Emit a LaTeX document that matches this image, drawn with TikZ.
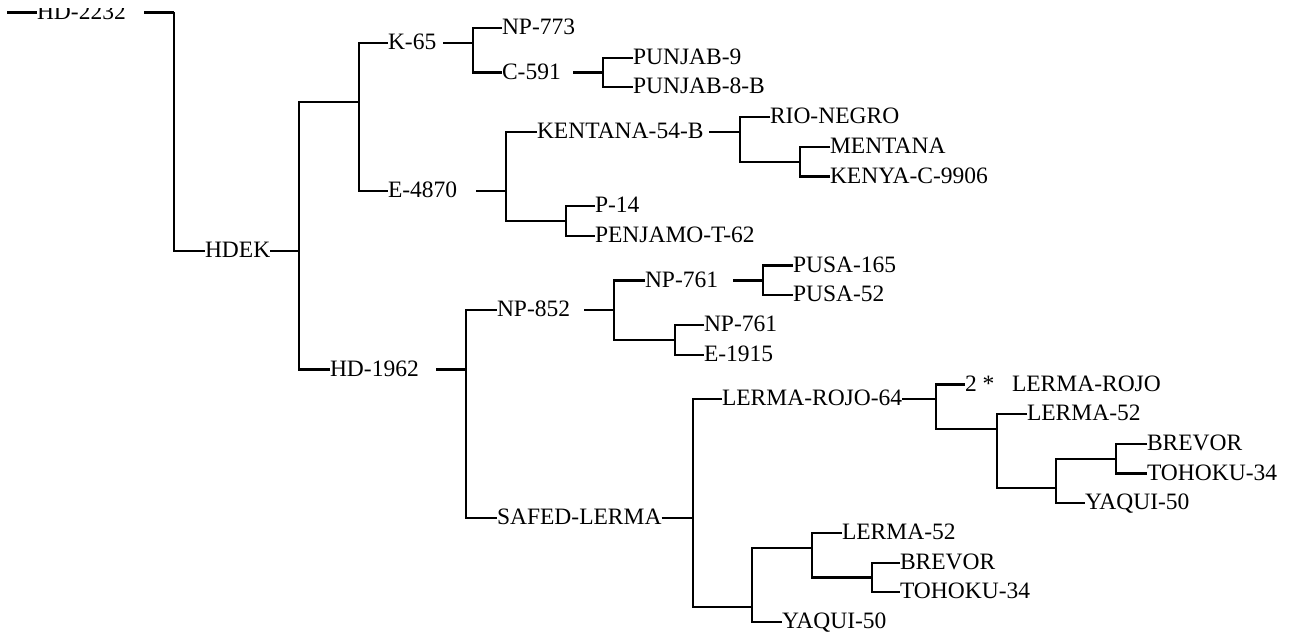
\documentclass[tikz,border=0pt]{standalone}
\usepackage{fontspec}
\setmainfont{Liberation Serif}
\begin{document}
\begin{tikzpicture}[x=1pt,y=-1pt, line width=2.2pt, line join=miter,
  lab/.style={anchor=west, inner sep=0pt, outer sep=0pt, text height=13.2pt, text depth=0pt,
    font=\fontsize{23.5}{28}\selectfont, text=black},
  conn/.style={draw=black}]
\fill[white] (0,0) rectangle (1298,636);
\useasboundingbox (0,0) rectangle (1298,636);

% ---- labels ----
\begin{scope}
  \clip (0,9) rectangle (140,40);
  \node[lab] (hdtwo) at (37,12.5) {HD-2232};
\end{scope}
\node[lab] (hdek) at (205,250.75) {HDEK};
\node[lab] (kfive) at (388,42.85) {K-65};
\node[lab] (npseven) at (502,28) {NP-773};
\node[lab] (cfive) at (502,72.55) {C-591};
\node[lab] (punnine) at (633,57.7) {PUNJAB-9};
\node[lab] (puneight) at (633,87.4) {PUNJAB-8-B};
\node[lab] (efour) at (388,191.35) {E-4870};
\node[lab] (kent) at (537,131.95) {KENTANA-54-B};
\node[lab] (rio) at (770,117.1) {RIO-NEGRO};
\node[lab] (ment) at (830,146.8) {MENTANA};
\node[lab] (kenya) at (830,176.5) {KENYA-C-9906};
\node[lab] (pfourteen) at (595,206.2) {P-14};
\node[lab] (penj) at (595,235.9) {PENJAMO-T-62};
\node[lab] (hdnineteen) at (330,369.55) {HD-1962};
\node[lab] (npeight) at (497,310.15) {NP-852};
\node[lab] (npsevA) at (645,280.45) {NP-761};
\node[lab] (pusaA) at (793,265.6) {PUSA-165};
\node[lab] (pusaB) at (793,295.3) {PUSA-52};
\node[lab] (npsevB) at (704,325) {NP-761};
\node[lab] (eone) at (704,354.7) {E-1915};
\node[lab] (safed) at (497,518.05) {SAFED-LERMA};
\node[lab] (lrsf) at (722,399.25) {LERMA-ROJO-64};
\node[lab] (lrtwo) at (965,384.4) {2 *~~~LERMA-ROJO};
\node[lab] (lermaA) at (1027,414.1) {LERMA-52};
\node[lab] (brevA) at (1147,443.8) {BREVOR};
\node[lab] (tohA) at (1147,473.5) {TOHOKU-34};
\node[lab] (yaqA) at (1085,503.2) {YAQUI-50};
\node[lab] (lermaB) at (842,532.9) {LERMA-52};
\node[lab] (brevB) at (900,562.6) {BREVOR};
\node[lab] (tohB) at (900,592.3) {TOHOKU-34};
\node[lab] (yaqB) at (782,622) {YAQUI-50};

% ---- junction coordinates ----
\coordinate (root) at (7,12.5);
\coordinate (v1) at (174,12.5);
\coordinate (v2) at (299,250.75);
\coordinate (v3) at (359,102.25);
\coordinate (v4) at (473,42.85);
\coordinate (v5) at (603,72.55);
\coordinate (v6) at (506,191.35);
\coordinate (v7) at (566,221.05);
\coordinate (v8) at (740,131.95);
\coordinate (v9) at (800,161.65);
\coordinate (v10) at (466,369.55);
\coordinate (v11) at (614,310.15);
\coordinate (v12) at (675,339.85);
\coordinate (v13) at (763,280.45);
\coordinate (v14) at (693,518.05);
\coordinate (v15) at (752,607.15);
\coordinate (v16) at (812,547.75);
\coordinate (v17) at (872,577.45);
\coordinate (v18) at (936,399.25);
\coordinate (v19) at (997,428.95);
\coordinate (v20) at (1056,488.35);
\coordinate (v21) at (1116,458.65);

% ---- connectors ----
\draw[conn] (root) -- (hdtwo.west);
\draw[conn] (v1) -- ++(-30,0);
\draw[conn] (v1) |- (hdek.west);
\draw[conn] (hdek.east) -- (v2);
\draw[conn] (v3) -| (v2) |- (hdnineteen.west);
\draw[conn] (kfive.west) -| (v3) |- (efour.west);
\draw[conn] (v4) -- ++(-30,0);
\draw[conn] (npseven.west) -| (v4) |- (cfive.west);
\draw[conn] (v5) -- ++(-30,0);
\draw[conn] (punnine.west) -| (v5) |- (puneight.west);
\draw[conn] (v6) -- ++(-30,0);
\draw[conn] (kent.west) -| (v6) |- (v7);
\draw[conn] (pfourteen.west) -| (v7) |- (penj.west);
\draw[conn] (v8) -- ++(-31,0);
\draw[conn] (rio.west) -| (v8) |- (v9);
\draw[conn] (ment.west) -| (v9) |- (kenya.west);
\draw[conn] (v10) -- ++(-30,0);
\draw[conn] (npeight.west) -| (v10) |- (safed.west);
\draw[conn] (v11) -- ++(-30,0);
\draw[conn] (npsevA.west) -| (v11) |- (v12);
\draw[conn] (npsevB.west) -| (v12) |- (eone.west);
\draw[conn] (v13) -- ++(-30,0);
\draw[conn] (pusaA.west) -| (v13) |- (pusaB.west);
\draw[conn] (safed.east) -- (v14);
\draw[conn] (lrsf.west) -| (v14) |- (v15);
\draw[conn] (v16) -| (v15) |- (yaqB.west);
\draw[conn] (lermaB.west) -| (v16) |- (v17);
\draw[conn] (brevB.west) -| (v17) |- (tohB.west);
\draw[conn] (lrsf.east) -- (v18);
\draw[conn] (lrtwo.west) -| (v18) |- (v19);
\draw[conn] (lermaA.west) -| (v19) |- (v20);
\draw[conn] (v21) -| (v20) |- (yaqA.west);
\draw[conn] (brevA.west) -| (v21) |- (tohA.west);
\end{tikzpicture}
\end{document}
